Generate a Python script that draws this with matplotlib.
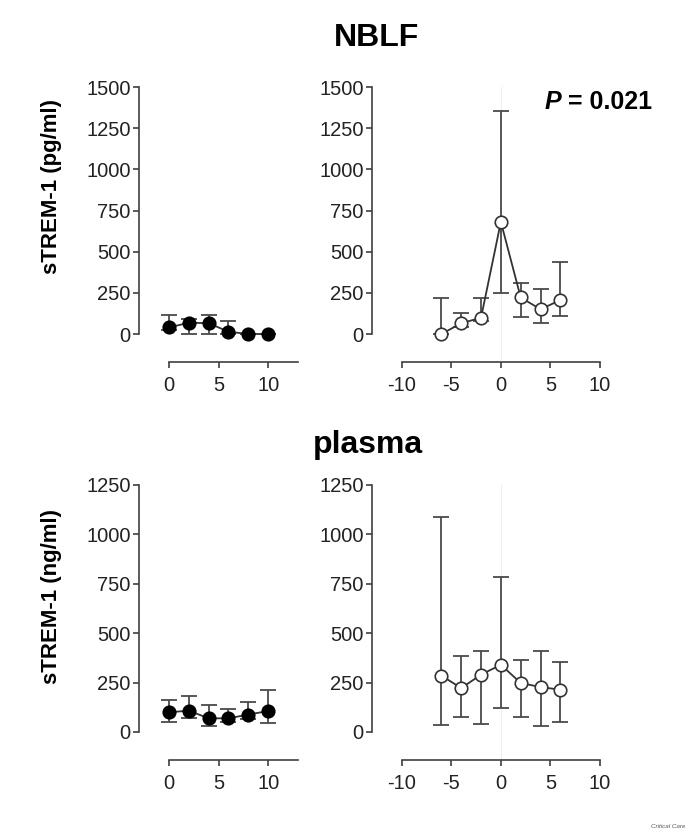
import matplotlib.pyplot as plt

plt.rcParams['font.family'] = ['Liberation Sans', 'DejaVu Sans']
plt.rcParams['axes.unicode_minus'] = False

# days, control group (filled) and patient group (open)
days_ctrl = [0, 2, 4, 6, 8, 10]
days_pat = [-6, -4, -2, 0, 2, 4, 6]

# NBLF, pg/ml: median, lower, upper
nblf_ctrl = [40, 68, 66, 14, 0, 0]
nblf_ctrl_lo = [25, 0, 0, 0, 0, 0]
nblf_ctrl_hi = [115, 90, 115, 80, 0, 0]

nblf_pat = [0, 65, 99, 681, 222, 150, 206]
nblf_pat_lo = [0, 40, 80, 251, 101, 65, 109]
nblf_pat_hi = [216, 130, 216, 1354, 311, 271, 435]

# plasma, ng/ml
plas_ctrl = [99, 108, 69, 69, 88, 106]
plas_ctrl_lo = [51, 71, 29, 50, 65, 45]
plas_ctrl_hi = [163, 184, 136, 116, 152, 214]

plas_pat = [285, 222, 290, 340, 248, 227, 214]
plas_pat_lo = [34, 74, 42, 120, 76, 29, 49]
plas_pat_hi = [1090, 386, 412, 783, 362, 412, 354]

AX = '#404040'
W, H = 685.0, 835.0


def axes_px(fig, x0, x1, y0, y1):
    return fig.add_axes([x0 / W, 1 - y1 / H, (x1 - x0) / W, (y1 - y0) / H])


def style(ax, xlim, xb, ylim, ymax, xt):
    ax.set_xlim(*xlim)
    ax.set_ylim(ylim, ymax)
    for s in ['top', 'right']:
        ax.spines[s].set_visible(False)
    ax.spines['left'].set_bounds(0, ymax)
    ax.spines['bottom'].set_bounds(*xb)
    for s in ['left', 'bottom']:
        ax.spines[s].set_color(AX)
        ax.spines[s].set_linewidth(1.2)
    ax.set_yticks(range(0, ymax + 1, 250))
    ax.set_xticks(xt)
    ax.tick_params(direction='out', length=4, width=1.2, color=AX,
                   labelsize=14.5, labelcolor='#222222', pad=2)
    ax.tick_params(axis='x', pad=6)
    ax.patch.set_alpha(0)


def draw(ax, x, y, lo, hi, filled):
    yerr = [[v - l for v, l in zip(y, lo)], [h - v for v, h in zip(y, hi)]]
    ax.errorbar(x, y, yerr=yerr, fmt='none', ecolor='#4a4a4a', elinewidth=1.3,
                capsize=6, capthick=1.3, zorder=2)
    ax.plot(x, y, '-', color='#333333', lw=1.3, zorder=3)
    ax.plot(x, y, 'o', ms=9, mfc='black' if filled else 'white',
            mec='black' if filled else '#333333', mew=1.2, zorder=4)


fig = plt.figure(figsize=(6.85, 8.35), dpi=100)

ax1 = axes_px(fig, 139, 298, 87, 362)
ax2 = axes_px(fig, 372, 600, 87, 362)
ax3 = axes_px(fig, 139, 298, 485, 760)
ax4 = axes_px(fig, 372, 600, 485, 760)

style(ax1, (-3, 13), (0, 13), -170, 1500, [0, 5, 10])
style(ax2, (-13, 10), (-10, 10), -170, 1500, [-10, -5, 0, 5, 10])
style(ax3, (-3, 13), (0, 13), -142, 1250, [0, 5, 10])
style(ax4, (-13, 10), (-10, 10), -142, 1250, [-10, -5, 0, 5, 10])

for ax in (ax2, ax4):
    ax.axvline(0, color='#eeeeee', lw=0.8, zorder=1)

draw(ax1, days_ctrl, nblf_ctrl, nblf_ctrl_lo, nblf_ctrl_hi, True)
draw(ax2, days_pat, nblf_pat, nblf_pat_lo, nblf_pat_hi, False)
draw(ax3, days_ctrl, plas_ctrl, plas_ctrl_lo, plas_ctrl_hi, True)
draw(ax4, days_pat, plas_pat, plas_pat_lo, plas_pat_hi, False)

fig.text(376 / W, 1 - 38 / H, 'NBLF', ha='center', va='center',
         fontsize=23, fontweight='bold')
fig.text(368 / W, 1 - 445 / H, 'plasma', ha='center', va='center',
         fontsize=23, fontweight='bold')
fig.text(52 / W, 1 - 186 / H, 'sTREM-1 (pg/ml)', rotation=90, ha='center',
         va='center', fontsize=16, fontweight='bold')
fig.text(52 / W, 1 - 597 / H, 'sTREM-1 (ng/ml)', rotation=90, ha='center',
         va='center', fontsize=16, fontweight='bold')

# P value: italic P followed by the number, placed from the right edge
pv = fig.text(652 / W, 1 - 109 / H, ' = 0.021', ha='right', va='baseline',
              fontsize=18, fontweight='bold')
fig.canvas.draw()
bb = pv.get_window_extent()
fig.text(bb.x0 / W, 1 - 109 / H, 'P', ha='right', va='baseline',
         fontsize=18, fontweight='bold', style='italic')

fig.text(668 / W, 1 - 827 / H, 'Critical Care', ha='center', va='center',
         fontsize=4.5, style='italic', color='#555555')

fig.savefig('out.png', dpi=100)
